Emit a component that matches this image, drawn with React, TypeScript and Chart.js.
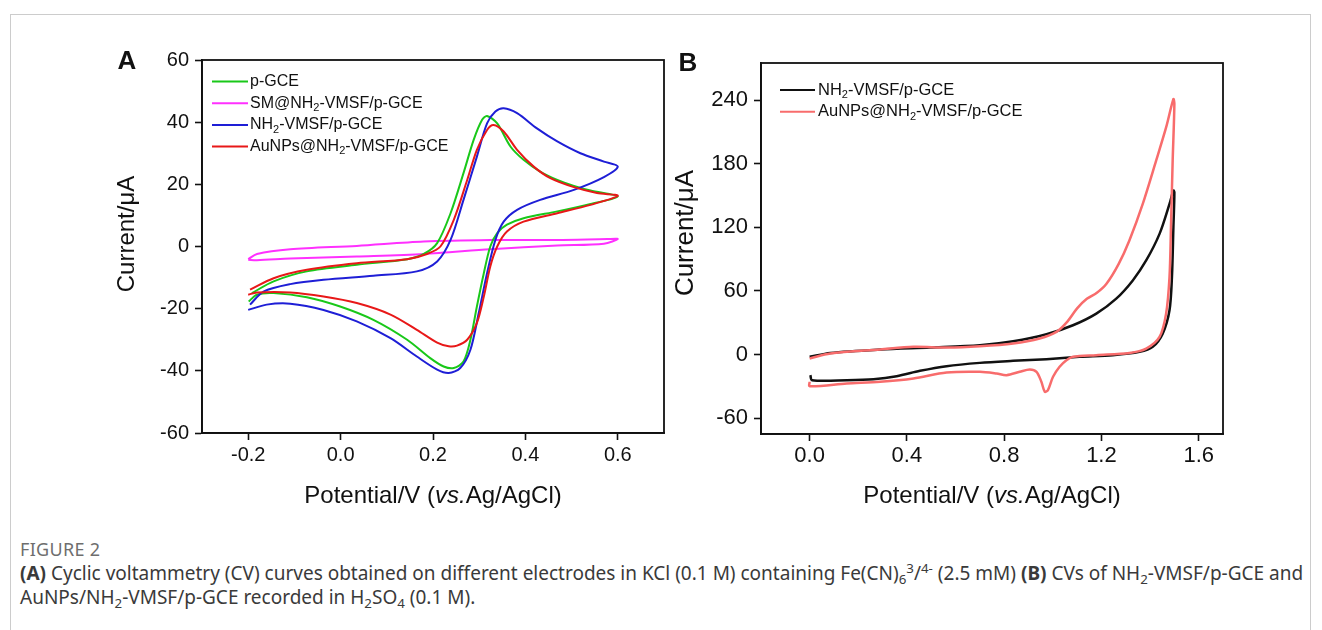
import React, { useEffect, useRef } from "react";
import { Chart, registerables } from "chart.js";

Chart.register(...registerables);

const FONT = "'Liberation Sans', Arial, Helvetica, sans-serif";

// ---------------- Panel A data ----------------
const aXTicks = [-0.2, 0.0, 0.2, 0.4, 0.6];
const aYTicks = [-60, -40, -20, 0, 20, 40, 60];
const aLabels = ["p-GCE", "SM@NH₂-VMSF/p-GCE", "NH₂-VMSF/p-GCE", "AuNPs@NH₂-VMSF/p-GCE"];
const aColors = ["#19c819", "#ff30ff", "#1e1ed6", "#e81818"];

const pgceX = [-0.192, -0.145, -0.073, 0.035, 0.144, 0.18, 0.209, 0.238, 0.266, 0.288, 0.306, 0.317, 0.339, 0.368, 0.396, 0.432, 0.469, 0.505, 0.541, 0.6,
  0.541, 0.469, 0.396, 0.36, 0.339, 0.324, 0.31, 0.295, 0.281, 0.266, 0.245, 0.223, 0.194, 0.144, 0.071, -0.001, -0.073, -0.145, -0.181, -0.199];
const pgceY = [-15.0, -11.2, -8.0, -5.9, -4.1, -2.4, 1.1, 10.7, 23.6, 34.3, 40.7, 42.0, 39.6, 32.1, 27.9, 24.1, 21.4, 19.5, 18.0, 16.1,
  13.7, 11.3, 9.1, 7.0, 4.3, 0, -8.6, -19.3, -30.0, -37.0, -39.1, -38.6, -35.9, -30.0, -23.6, -19.3, -16.3, -15.0, -15.5, -17.7];

const smX = [-0.2, -0.181, -0.109, 0.035, 0.18, 0.324, 0.469, 0.577, 0.6, 0.57, 0.469, 0.324, 0.18, 0.035, -0.109, -0.181, -0.2];
const smY = [-4.1, -2.4, -0.9, 0.2, 1.6, 2.1, 2.1, 2.4, 2.4, 0.9, 0.3, -0.9, -2.4, -3.2, -3.9, -4.4, -4.3];

const nhX = [-0.196, -0.167, -0.109, -0.037, 0.071, 0.165, 0.209, 0.238, 0.266, 0.295, 0.317, 0.335, 0.353, 0.382, 0.425, 0.469, 0.519, 0.57, 0.6,
  0.57, 0.505, 0.432, 0.382, 0.353, 0.335, 0.317, 0.299, 0.281, 0.259, 0.234, 0.209, 0.165, 0.108, 0.035, -0.037, -0.109, -0.16, -0.2];
const nhY = [-18.7, -14.5, -12.1, -10.7, -9.4, -8.0, -4.8, 2.1, 15.0, 28.9, 39.6, 43.4, 44.5, 42.9, 38.0, 33.8, 30.0, 27.3, 25.7,
  22.3, 18.2, 15.0, 11.8, 8.0, 2.1, -8.6, -21.4, -33.2, -39.1, -40.7, -39.6, -35.4, -29.5, -24.1, -20.4, -18.4, -18.7, -20.4];

const auX = [-0.196, -0.145, -0.073, 0.035, 0.144, 0.187, 0.216, 0.245, 0.274, 0.295, 0.317, 0.331, 0.353, 0.382, 0.418, 0.454, 0.505, 0.555, 0.6,
  0.541, 0.469, 0.396, 0.36, 0.339, 0.324, 0.31, 0.295, 0.274, 0.252, 0.234, 0.209, 0.165, 0.108, 0.035, -0.037, -0.109, -0.181, -0.2];
const auY = [-13.9, -10.2, -7.5, -5.4, -4.1, -2.4, 0, 8.6, 21.4, 31.1, 37.5, 39.1, 37.0, 31.1, 25.7, 22.0, 19.1, 17.2, 16.3,
  13.4, 10.7, 8.0, 4.8, 0, -6.4, -16.1, -24.6, -30.0, -31.9, -32.1, -30.9, -26.8, -21.9, -18.2, -16.1, -14.8, -14.8, -15.5];

// ---------------- Panel B data ----------------
const bXTicks = [0.0, 0.4, 0.8, 1.2, 1.6];
const bYTicks = [-60, 0, 60, 120, 180, 240];
const bLabels = ["NH₂-VMSF/p-GCE", "AuNPs@NH₂-VMSF/p-GCE"];
const bColors = ["#111111", "#f86c6c"];

const bNhX = [0, 0.085, 0.29, 0.495, 0.7, 0.837, 0.974, 1.083, 1.179, 1.261, 1.329, 1.384, 1.439, 1.48, 1.496,
  1.5, 1.496, 1.49, 1.48, 1.452, 1.411, 1.357, 1.247, 1.11, 0.974, 0.837, 0.7, 0.563, 0.454, 0.358, 0.263, 0.153, 0.01, 0.003];
const bNhY = [-2.2, 1.5, 4.7, 6.6, 8.8, 12.5, 19.1, 27.6, 38.6, 52.7, 69.9, 88.7, 113.8, 142.1, 154.7,
  153.1, 120, 73.1, 41.7, 19.7, 7.2, 2.5, -0.6, -2.2, -4.4, -6.0, -7.9, -11.0, -15.4, -20.5, -23.3, -24.2, -24.2, -19.5];

const bAuX = [0, 0.085, 0.29, 0.427, 0.563, 0.7, 0.837, 0.946, 1.015, 1.06, 1.1, 1.14, 1.18, 1.22, 1.27, 1.315, 1.37, 1.425, 1.466, 1.496,
  1.5, 1.493, 1.486, 1.48, 1.466, 1.439, 1.384, 1.315, 1.179, 1.083, 1.056, 1.028, 1.001, 0.98, 0.967, 0.953, 0.933, 0.905, 0.864, 0.81, 0.769, 0.7, 0.563, 0.427, 0.29, 0.153, 0, 0];
const bAuY = [-3.8, 0.9, 4.7, 7.2, 6.6, 7.8, 10.4, 15.1, 21.3, 31.0, 43.5, 52.5, 58.0, 66.5, 85.0, 107.6, 142.1, 182.9, 214.2, 240.9,
  236.2, 182.9, 120.1, 73.1, 38.6, 16.6, 5.6, 1.5, -0.6, -2.2, -5.4, -11.6, -21.0, -33.6, -35.1, -25.7, -16.3, -14.1, -16.3, -19.5, -17.9, -16.3, -17.0, -22.6, -25.8, -27.4, -29.9, -25.7];

type Seg = { t: string; it?: boolean; sub?: boolean };

function segsFromLabel(s: string): Seg[] {
  const out: Seg[] = [];
  const parts = s.split("₂");
  parts.forEach((p, i) => {
    if (p) out.push({ t: p });
    if (i < parts.length - 1) out.push({ t: "2", sub: true });
  });
  return out;
}

function drawRich(ctx: CanvasRenderingContext2D, segs: Seg[], x: number, y: number, size: number, align: "left" | "center") {
  const fontOf = (s: Seg) => `${s.it ? "italic " : ""}${s.sub ? Math.round(size * 0.68) : size}px ${FONT}`;
  let total = 0;
  const widths = segs.map((s) => {
    ctx.font = fontOf(s);
    const w = ctx.measureText(s.t).width;
    total += w;
    return w;
  });
  let cx = align === "center" ? x - total / 2 : x;
  ctx.textBaseline = "middle";
  ctx.textAlign = "left";
  segs.forEach((s, i) => {
    ctx.font = fontOf(s);
    ctx.fillText(s.t, cx, s.sub ? y + size * 0.3 : y);
    cx += widths[i];
  });
}

type PanelCfg = {
  letter: string;
  letterPos: [number, number];
  yTitlePos: [number, number];
  yTitleSize: number;
  xTitleY: number;
  legendX: [number, number, number];
  legendY0: number;
  legendDy: number;
  legendSize: number;
  labels: string[];
  colors: string[];
};

const decorPlugin = {
  id: "decor",
  afterDraw(chart: any, _args: any, opts: PanelCfg) {
    const ctx: CanvasRenderingContext2D = chart.ctx;
    const { left, right, top, bottom } = chart.chartArea;
    ctx.save();
    ctx.strokeStyle = "#111";
    ctx.lineWidth = 1.8;
    ctx.strokeRect(left, top, right - left, bottom - top);
    ctx.fillStyle = "#111";
    ctx.font = `bold 26px ${FONT}`;
    ctx.textAlign = "center";
    ctx.textBaseline = "middle";
    ctx.fillText(opts.letter, opts.letterPos[0], opts.letterPos[1]);
    drawRich(ctx, [{ t: "Potential/V (" }, { t: "vs.", it: true }, { t: "Ag/AgCl)" }], (left + right) / 2, opts.xTitleY, 24, "center");
    ctx.save();
    ctx.translate(opts.yTitlePos[0], opts.yTitlePos[1]);
    ctx.rotate(-Math.PI / 2);
    drawRich(ctx, [{ t: "Current/μA" }], 0, 0, opts.yTitleSize, "center");
    ctx.restore();
    opts.labels.forEach((lab, i) => {
      const y = opts.legendY0 + i * opts.legendDy;
      ctx.strokeStyle = opts.colors[i];
      ctx.lineWidth = 2;
      ctx.beginPath();
      ctx.moveTo(opts.legendX[0], y);
      ctx.lineTo(opts.legendX[1], y);
      ctx.stroke();
      ctx.fillStyle = "#111";
      drawRich(ctx, segsFromLabel(lab), opts.legendX[2], y, opts.legendSize, "left");
    });
    ctx.restore();
  },
};

function pts(xs: number[], ys: number[]) {
  return xs.map((x, i) => ({ x, y: ys[i] }));
}

function buildConfig(
  series: { x: number[]; y: number[] }[],
  labels: string[],
  colors: string[],
  widths: number[],
  orders: number[],
  xMin: number, xMax: number, yMin: number, yMax: number,
  xTicks: number[], yTicks: number[],
  yAxisWidth: number, xAxisHeight: number, padding: any,
  tickSize: number, xTickPad: number, yTickPad: number,
  decor: PanelCfg
): any {
  return {
    type: "scatter",
    data: {
      datasets: series.map((s, i) => ({
        label: labels[i],
        data: pts(s.x, s.y),
        showLine: true,
        borderColor: colors[i],
        backgroundColor: colors[i],
        borderWidth: widths[i],
        pointRadius: 0,
        tension: 0.3,
        fill: false,
        order: orders[i],
      })),
    },
    options: {
      animation: false,
      responsive: false,
      devicePixelRatio: 1,
      layout: { padding },
      plugins: {
        legend: { display: false },
        tooltip: { enabled: false },
        decor,
      },
      events: [],
      scales: {
        x: {
          type: "linear",
          min: xMin,
          max: xMax,
          afterBuildTicks: (scale: any) => { scale.ticks = xTicks.map((v) => ({ value: v })); },
          afterFit: (scale: any) => { scale.height = xAxisHeight; },
          grid: { drawOnChartArea: false, drawTicks: true, tickLength: 7, tickColor: "#111", tickWidth: 1.6 },
          border: { display: true, color: "#111", width: 1.8 },
          ticks: { color: "#111", font: { size: tickSize, family: FONT }, padding: xTickPad, maxRotation: 0, callback: (v: number) => v.toFixed(1) },
        },
        y: {
          type: "linear",
          min: yMin,
          max: yMax,
          afterBuildTicks: (scale: any) => { scale.ticks = yTicks.map((v) => ({ value: v })); },
          afterFit: (scale: any) => { scale.width = yAxisWidth; },
          grid: { drawOnChartArea: false, drawTicks: true, tickLength: 7, tickColor: "#111", tickWidth: 1.6 },
          border: { display: true, color: "#111", width: 1.8 },
          ticks: { color: "#111", font: { size: tickSize, family: FONT }, padding: yTickPad, callback: (v: number) => String(Math.round(v)) },
        },
      },
    },
    plugins: [decorPlugin],
  };
}

function PanelA() {
  const ref = useRef<HTMLCanvasElement>(null);
  useEffect(() => {
    const chart = new Chart(ref.current!, buildConfig(
      [{ x: pgceX, y: pgceY }, { x: smX, y: smY }, { x: nhX, y: nhY }, { x: auX, y: auY }],
      aLabels, aColors, [2, 2, 2, 2], [3, 4, 2, 1],
      -0.3, 0.7, -60, 60, aXTicks, aYTicks,
      102, 87, { left: 0, right: 16, top: 20, bottom: 0 },
      20, 3, 6,
      {
        letter: "A", letterPos: [27, 22], yTitlePos: [27, 194], yTitleSize: 24, xTitleY: 456,
        legendX: [112, 148, 150], legendY0: 41.5, legendDy: 21.7, legendSize: 16,
        labels: aLabels, colors: aColors,
      }
    ));
    return () => chart.destroy();
  }, []);
  return <canvas ref={ref} width={580} height={480} style={{ position: "absolute", left: 100, top: 40, width: 580, height: 480 }} />;
}

function PanelB() {
  const ref = useRef<HTMLCanvasElement>(null);
  useEffect(() => {
    const chart = new Chart(ref.current!, buildConfig(
      [{ x: bNhX, y: bNhY }, { x: bAuX, y: bAuY }],
      bLabels, bColors, [2.5, 2.5], [2, 1],
      -0.2, 1.7, -75, 275, bXTicks, bYTicks,
      101, 86, { left: 0, right: 37, top: 23, bottom: 0 },
      22, 2, 6,
      {
        letter: "B", letterPos: [28, 24], yTitlePos: [26, 193], yTitleSize: 26, xTitleY: 456,
        legendX: [120, 155, 158], legendY0: 50, legendDy: 21.7, legendSize: 16.5,
        labels: bLabels, colors: bColors,
      }
    ));
    return () => chart.destroy();
  }, []);
  return <canvas ref={ref} width={600} height={480} style={{ position: "absolute", left: 660, top: 40, width: 600, height: 480 }} />;
}

const subStyle: React.CSSProperties = { fontSize: "0.7em", verticalAlign: "-0.3em", lineHeight: 0 };
const supStyle: React.CSSProperties = { fontSize: "0.7em", verticalAlign: "0.55em", lineHeight: 0 };

export default function App() {
  return (
    <div>
      <div style={{ position: "absolute", left: 10, top: 14, width: 1301, height: 700, border: "1px solid #cccccc", boxSizing: "border-box" }} />
      <PanelA />
      <PanelB />
      <div style={{ position: "absolute", left: 20, top: 537, width: 1295, fontFamily: "'Noto Sans', sans-serif", color: "#3a3a3a", fontSize: 19, lineHeight: "24px", whiteSpace: "nowrap" }}>
        <div style={{ color: "#6e6e6e", fontSize: 18, letterSpacing: 0.3 }}>FIGURE 2</div>
        <div>
          <b>(A)</b> Cyclic voltammetry (CV) curves obtained on different electrodes in KCl (0.1 M) containing Fe(CN)<span style={subStyle}>6</span><span style={supStyle}>3</span>/<span style={supStyle}>4-</span> (2.5 mM) <b>(B)</b> CVs of NH<span style={subStyle}>2</span>-VMSF/p-GCE and
        </div>
        <div>
          AuNPs/NH<span style={subStyle}>2</span>-VMSF/p-GCE recorded in H<span style={subStyle}>2</span>SO<span style={subStyle}>4</span> (0.1 M).
        </div>
      </div>
    </div>
  );
}
